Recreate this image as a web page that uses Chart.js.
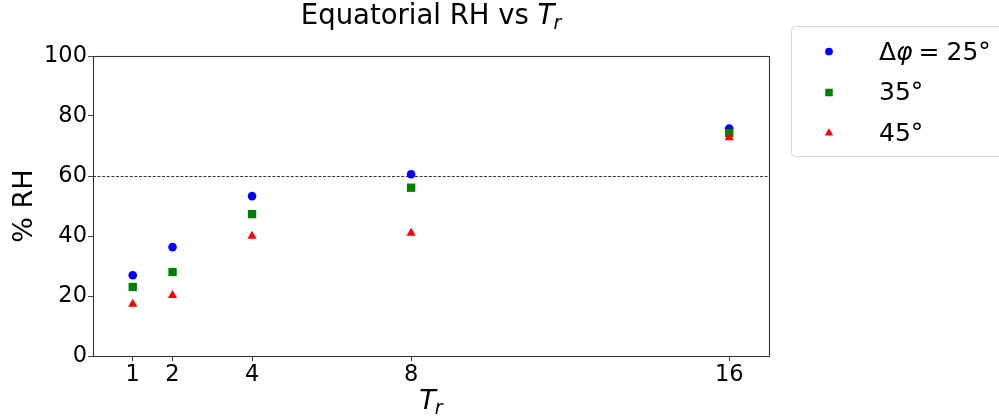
<!DOCTYPE html>
<html>
    <head>
        <title>Equatorial RH</title>
        <meta charset="UTF-8">
        <script src="https://cdn.jsdelivr.net/npm/chart.js@4.4.1/dist/chart.umd.min.js"></script>
        <style>
            html, body { margin: 0; padding: 0; background: #fff; }
            #wrap { width: 999px; height: 419px; }
        </style>
    </head>
    <body>
        <div id="wrap"><canvas id="rhChart" width="999" height="419"></canvas></div>
        <script>
            // radiative timescale T_r and equatorial RH (%) for each delta phi
            const trValues = [1, 2, 4, 8, 16];
            const rh25 = [26.9, 36.3, 53.3, 60.6, 75.8];
            const rh35 = [23.0, 28.0, 47.3, 56.1, 74.3];
            const rh45 = [17.3, 20.2, 40.0, 41.0, 72.8];
            const xTicks = [1, 2, 4, 8, 16];
            const yTicks = [0, 20, 40, 60, 80, 100];
            const refLine = 60;

            const FONT = 'DejaVu Sans';

            function toPoints(ys) {
                return trValues.map((x, i) => ({ x: x, y: ys[i] }));
            }

            // draws a run of text pieces with different fonts / offsets
            function drawRich(ctx, parts, x, y, align) {
                let total = 0;
                parts.forEach(p => { ctx.font = p.font; total += ctx.measureText(p.text).width + (p.gap || 0); });
                let cx = align === 'center' ? x - total / 2 : x;
                ctx.textAlign = 'left';
                ctx.textBaseline = 'alphabetic';
                parts.forEach(p => {
                    ctx.font = p.font;
                    ctx.fillText(p.text, cx, y + (p.dy || 0));
                    cx += ctx.measureText(p.text).width + (p.gap || 0);
                });
            }

            const decorations = {
                id: 'decorations',
                beforeDatasetsDraw(chart) {
                    const ctx = chart.ctx;
                    const a = chart.chartArea;
                    const yv = Math.round(chart.scales.y.getPixelForValue(refLine)) + 0.5;
                    ctx.save();
                    ctx.strokeStyle = '#000';
                    ctx.lineWidth = 0.8;
                    ctx.setLineDash([3, 1.6]);
                    ctx.beginPath();
                    ctx.moveTo(a.left, yv);
                    ctx.lineTo(a.right, yv);
                    ctx.stroke();
                    ctx.restore();
                },
                afterDraw(chart) {
                    const ctx = chart.ctx;
                    const a = chart.chartArea;
                    ctx.save();
                    // frame
                    ctx.strokeStyle = '#333';
                    ctx.lineWidth = 1.1;
                    ctx.strokeRect(Math.round(a.left) + 0.5, Math.round(a.top) + 0.5,
                        Math.round(a.right - a.left), Math.round(a.bottom - a.top));

                    ctx.fillStyle = '#000';
                    // title
                    drawRich(ctx, [
                        { text: 'Equatorial RH vs ', font: '27.5px "' + FONT + '"' },
                        { text: 'T', font: 'italic 27.5px "' + FONT + '"', gap: -1 },
                        { text: 'r', font: 'italic 19px "' + FONT + '"', dy: 5 }
                    ], (a.left + a.right) / 2, 24, 'center');

                    // x axis title
                    drawRich(ctx, [
                        { text: 'T', font: 'italic 27px "' + FONT + '"', gap: -1 },
                        { text: 'r', font: 'italic 19px "' + FONT + '"', dy: 5 }
                    ], (a.left + a.right) / 2, 409, 'center');

                    // y axis title
                    ctx.save();
                    ctx.translate(32, (a.top + a.bottom) / 2);
                    ctx.rotate(-Math.PI / 2);
                    ctx.font = '27px "' + FONT + '"';
                    ctx.textAlign = 'center';
                    ctx.textBaseline = 'alphabetic';
                    ctx.fillText('% RH', 0, 0);
                    ctx.restore();

                    // legend
                    const lx = 791, ly = 26.5, lw = 220, lh = 130;
                    ctx.fillStyle = 'rgba(255,255,255,0.8)';
                    ctx.strokeStyle = '#d6d6d6';
                    ctx.lineWidth = 1;
                    ctx.beginPath();
                    ctx.roundRect(lx + 0.5, ly, lw, lh, 4);
                    ctx.fill();
                    ctx.stroke();

                    const rows = [
                        { ds: chart.data.datasets[0], y: 51.5, base: 60,
                          parts: [
                              { text: '\u0394', font: '25px "' + FONT + '"' },
                              { text: '\u03c6', font: 'italic 25px "' + FONT + '"', gap: 6 },
                              { text: '=', font: '25px "' + FONT + '"', gap: 7 },
                              { text: '25\u00b0', font: '25px "' + FONT + '"' }
                          ] },
                        { ds: chart.data.datasets[1], y: 92.5, base: 100,
                          parts: [{ text: '35\u00b0', font: '25px "' + FONT + '"' }] },
                        { ds: chart.data.datasets[2], y: 133, base: 141,
                          parts: [{ text: '45\u00b0', font: '25px "' + FONT + '"' }] }
                    ];
                    rows.forEach(r => {
                        ctx.fillStyle = r.ds.backgroundColor;
                        ctx.strokeStyle = r.ds.backgroundColor;
                        ctx.lineWidth = 0;
                        Chart.helpers.drawPoint(ctx, {
                            pointStyle: r.ds.pointStyle,
                            radius: r.ds.pointRadius * 0.9,
                            rotation: 0,
                            borderWidth: 0
                        }, 829, r.y);
                        ctx.fillStyle = '#000';
                        drawRich(ctx, r.parts, 879, r.base, 'left');
                    });
                    ctx.restore();
                }
            };

            const ctx = document.getElementById('rhChart').getContext('2d');
            const chart = new Chart(ctx, {
                type: 'scatter',
                data: {
                    datasets: [
                        { label: '25', data: toPoints(rh25), pointStyle: 'circle', pointRadius: 4.3,
                          backgroundColor: '#0000ff', borderColor: '#0000ff', borderWidth: 0, order: 3 },
                        { label: '35', data: toPoints(rh35), pointStyle: 'rect', pointRadius: 5.9,
                          backgroundColor: '#008000', borderColor: '#008000', borderWidth: 0, order: 2 },
                        { label: '45', data: toPoints(rh45), pointStyle: 'triangle', pointRadius: 5.3,
                          backgroundColor: '#ff0000', borderColor: '#ff0000', borderWidth: 0, order: 1 }
                    ]
                },
                options: {
                    responsive: false,
                    animation: false,
                    events: [],
                    layout: { padding: { left: 0, top: 56, right: 230, bottom: 0 } },
                    plugins: { legend: { display: false }, tooltip: { enabled: false } },
                    scales: {
                        x: {
                            type: 'linear', min: 0, max: 17,
                            afterBuildTicks: s => { s.ticks = xTicks.map(v => ({ value: v })); },
                            afterFit: s => { s.height = 63; },
                            border: { display: false },
                            grid: { drawOnChartArea: false, tickLength: 5, color: '#444' },
                            ticks: { color: '#000', padding: 1, maxRotation: 0, font: { family: FONT, size: 22.5 } }
                        },
                        y: {
                            min: 0, max: 100,
                            afterBuildTicks: s => { s.ticks = yTicks.map(v => ({ value: v })); },
                            afterFit: s => { s.width = 93; },
                            border: { display: false },
                            grid: { drawOnChartArea: false, tickLength: 5, color: '#444' },
                            ticks: { color: '#000', padding: 1, font: { family: FONT, size: 22.5 } }
                        }
                    }
                },
                plugins: [decorations]
            });
        </script>
    </body>
</html>
